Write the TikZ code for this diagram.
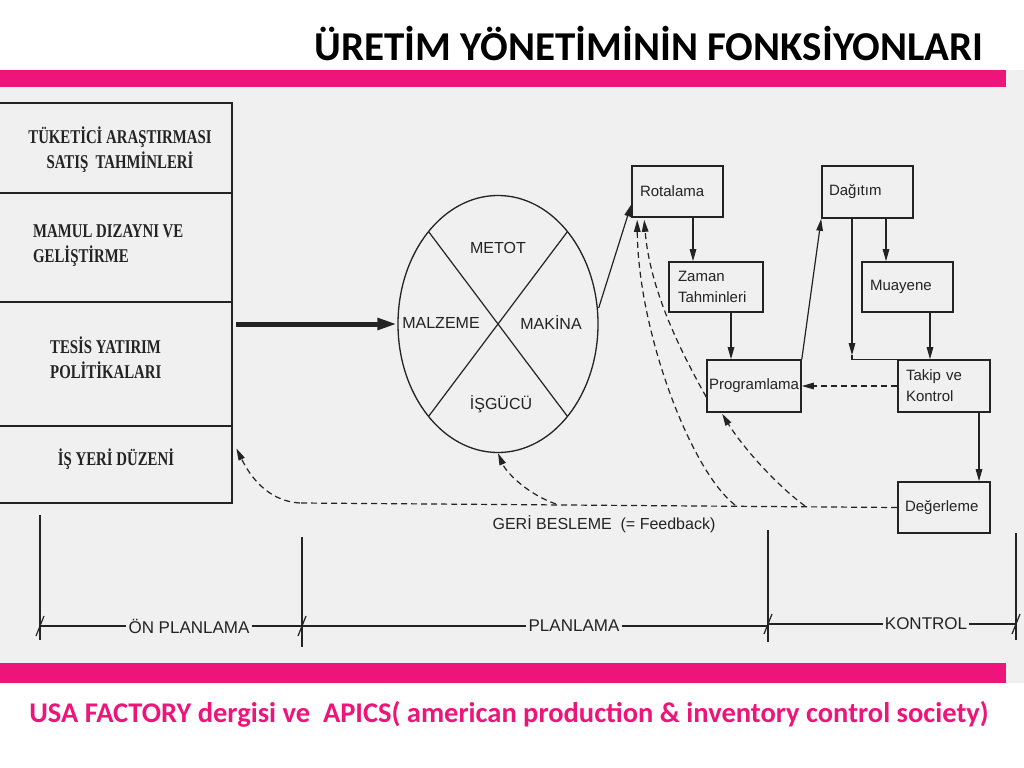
\documentclass[tikz,border=0pt]{standalone}
\usepackage{fontspec}
\setmainfont{Liberation Sans}
\newfontfamily\titlefont{Carlito}
\newfontfamily\lbfont{Liberation Serif}[FakeStretch=0.76]
\usetikzlibrary{arrows.meta,shapes.geometric,calc}
\definecolor{pinkbar}{RGB}{237,20,122}
\definecolor{panel}{RGB}{240,240,240}
\definecolor{ink}{RGB}{35,35,35}
\begin{document}
\begin{tikzpicture}[x=1bp,y=-1bp,
  frame/.style={draw=ink,line width=2bp},
  conn/.style={draw=ink,line width=1.2bp},
  arr/.style={conn,-{Triangle[length=12bp,width=6.5bp]}},
  fb/.style={arr,dash pattern=on 6bp off 4bp},
  rbox/.style={draw=ink,line width=1.6bp,fill=panel,align=left,inner ysep=0bp,
     font=\fontsize{15bp}{21bp}\selectfont,text=ink},
  boxarea/.style={rectangle,draw=none,minimum width=232bp,inner sep=0bp,anchor=north west},
  ltext/.style={inner sep=0bp,text=ink,font=\lbfont\bfseries\fontsize{19.5bp}{25bp}\selectfont},
  ctext/.style={inner sep=1bp,text=ink,font=\fontsize{16bp}{19bp}\selectfont},
  axtext/.style={inner sep=2bp,text=ink,font=\fontsize{17bp}{20bp}\selectfont},
  axis/.style={draw=ink,line width=1.2bp}]
\useasboundingbox (0,0) rectangle (1024,768);
\fill[white] (0,0) rectangle (1024,768);
\fill[panel] (0,70) rectangle (1024,683);
\fill[pinkbar] (0,70) rectangle (1006,87);
\fill[pinkbar] (0,663) rectangle (1006,683);

% title and footer
\node[font=\titlefont\bfseries\fontsize{41bp}{48bp}\selectfont] (title) at (649,44) {ÜRETİM YÖNETİMİNİN FONKSİYONLARI};
\node[text=pinkbar,font=\titlefont\bfseries\fontsize{28.5bp}{32bp}\selectfont] (foot) at (509,714) {USA FACTORY dergisi ve\ \ APICS( american production \& inventory control society)};

% left boxes
\node[boxarea,minimum height=90bp] (b1) at (0,103) {};
\node[boxarea,minimum height=108bp] (b2) at (b1.south west) {};
\node[boxarea,minimum height=124bp] (b3) at (b2.south west) {};
\node[boxarea,minimum height=76bp] (b4) at (b3.south west) {};
\draw[frame] (b1.north west) -- (b1.north east) -- (b4.south east) -- (b4.south west);
\draw[frame] (b1.south west) -- (b1.south east);
\draw[frame] (b2.south west) -- (b2.south east);
\draw[frame] (b3.south west) -- (b3.south east);
\node[ltext,align=center] (t1) at (120,150) {TÜKETİCİ ARAŞTIRMASI\\SATIŞ\ \ TAHMİNLERİ};
\node[ltext,align=left,anchor=west] (t2) at (33,246) {MAMUL DIZAYNI VE\\GELİŞTİRME};
\node[ltext,align=left,anchor=west] (t3) at (50,358) {TESİS YATIRIM\\POLİTİKALARI};
\node[ltext] (t4) at (116,459) {İŞ YERİ DÜZENİ};

% circle
\node[ellipse,draw=ink,line width=1.3bp,minimum width=200bp,minimum height=257bp,inner sep=0bp] (C) at (498,324) {};
\draw[conn] ($(C.center)+(134:100 and 128.5)$) -- ($(C.center)+(-46:100 and 128.5)$);
\draw[conn] ($(C.center)+(46:100 and 128.5)$) -- ($(C.center)+(226:100 and 128.5)$);
\node[ctext] (met) at (498,248) {METOT};
\node[ctext] (mal) at (441,323) {MALZEME};
\node[ctext] (mak) at (551,323) {MAKİNA};
\node[ctext] (isg) at (501,404) {İŞGÜCÜ};

% thick arrow
\coordinate (ths) at ($(b3.east |- C.west)+(4,0)$);
\draw[draw=ink,line width=5bp,-{Triangle[length=20bp,width=11bp]}] (ths) -- (C.west);

% right boxes
\node[rbox,text width=75bp,inner xsep=8bp,minimum height=51bp] (rot) at (677.5,191.5) {Rotalama};
\node[rbox,text width=77bp,inner xsep=7bp,minimum height=52bp] (dag) at (867.5,192) {Dağıtım};
\node[rbox,text width=76bp,inner xsep=9bp,minimum height=50bp] (zam) at (716,287) {Zaman\\Tahminleri};
\node[rbox,text width=75bp,inner xsep=8bp,minimum height=50bp] (mua) at (907.5,287) {Muayene};
\node[rbox,text width=90bp,inner xsep=2bp,minimum height=52bp] (prg) at (754,386) {Programlama};
\node[rbox,text width=76bp,inner xsep=8bp,minimum height=52bp] (tak) at (944,386) {Takip ve\\Kontrol};
\node[rbox,text width=78bp,inner xsep=7bp,minimum height=51bp] (deg) at (944,507.5) {Değerleme};

% solid connectors
\coordinate (a1) at ($(rot.south)+(15.5,0)$);
\draw[arr] (a1) -- (a1 |- zam.north);
\coordinate (a2) at ($(zam.south)+(15,0)$);
\draw[arr] (a2) -- (a2 |- prg.north);
\draw[arr] (prg.north east) -- (dag.south west);
\coordinate (a4) at ($(dag.south)+(18.5,0)$);
\draw[arr] (a4) -- (a4 |- mua.north);
\coordinate (a5) at ($(dag.south)+(-15.5,0)$);
\coordinate (a5e) at ($(a5 |- tak.north)+(0,-4)$);
\draw[arr] (a5) -- (a5e);
\draw[conn] (a5e) -- (a5 |- tak.north) -- (tak.north west);
\coordinate (a6) at ($(mua.south)+(22.5,0)$);
\draw[arr] (a6) -- (a6 |- tak.north);
\coordinate (a8) at ($(tak.south)+(35,0)$);
\draw[arr] (a8) -- (a8 |- deg.north);
\coordinate (cr) at ($(C.east)+(0,-16)$);
\coordinate (rt) at ($(rot.west)+(0,13)$);
\draw[arr] (cr) -- (rt);

% dashed feedback
\draw[fb] (tak.west) -- (prg.east);
\coordinate (fL) at (300,503);
\coordinate (fC) at (556,504);
\coordinate (fR1) at (735,505);
\coordinate (fP) at (805,506);
\coordinate (tb4) at ($(b4.east)+(4,-16)$);
\coordinate (trot1) at ($(rot.south west)+(6,2)$);
\coordinate (trot2) at ($(rot.south west)+(13,2)$);
\coordinate (tprg) at ($(prg.south west)+(16,1)$);
\coordinate (sprg) at ($(prg.west)+(0,11)$);
\draw[fb,-] (deg.west) -- (fL);
\draw[fb] (fL) .. controls (265,501) and (248,472) .. (tb4);
\draw[fb] (fC) .. controls (527,494) and (506,472) .. (C.south);
\draw[fb] (fR1) .. controls (690,470) and (638,330) .. (trot1);
\draw[fb] (fP) .. controls (770,480) and (738,440) .. (tprg);
\draw[fb] (sprg) .. controls (680,350) and (650,290) .. (trot2);
\node[ctext] (gb) at (604,524) {GERİ BESLEME\ \ (= Feedback)};

% phase axis
\coordinate (v1t) at (40,515); \coordinate (v1b) at (40,640);
\coordinate (v2t) at (302,537); \coordinate (v2b) at (302,647);
\coordinate (v3t) at (768,530); \coordinate (v3b) at (768,642);
\coordinate (v4t) at (1016,533); \coordinate (v4b) at (1016,640);
\draw[axis] (v1t) -- (v1b);
\draw[axis] (v2t) -- (v2b);
\draw[axis] (v3t) -- (v3b);
\draw[axis] (v4t) -- (v4b);
\node[axtext] (ax1) at (189,626) {ÖN PLANLAMA};
\node[axtext] (ax2) at (574,626) {PLANLAMA};
\node[axtext] (ax3) at (926,624) {KONTROL};
\draw[axis] (v1t |- ax1) -- (ax1.west);
\draw[axis] (ax1.east) -- (v2t |- ax1);
\draw[axis] (v2t |- ax2) -- (ax2.west);
\draw[axis] (ax2.east) -- (v3t |- ax2);
\draw[axis] (v3t |- ax3) -- (ax3.west);
\draw[axis] (ax3.east) -- (v4t |- ax3);
\draw[axis] ($(v1t |- ax1)+(-4,10)$) -- ($(v1t |- ax1)+(4,-10)$);
\draw[axis] ($(v2t |- ax2)+(-4,10)$) -- ($(v2t |- ax2)+(4,-10)$);
\draw[axis] ($(v3t |- ax3)+(-4,10)$) -- ($(v3t |- ax3)+(4,-10)$);
\draw[axis] ($(v4t |- ax3)+(-4,10)$) -- ($(v4t |- ax3)+(4,-10)$);
\end{tikzpicture}
\end{document}
